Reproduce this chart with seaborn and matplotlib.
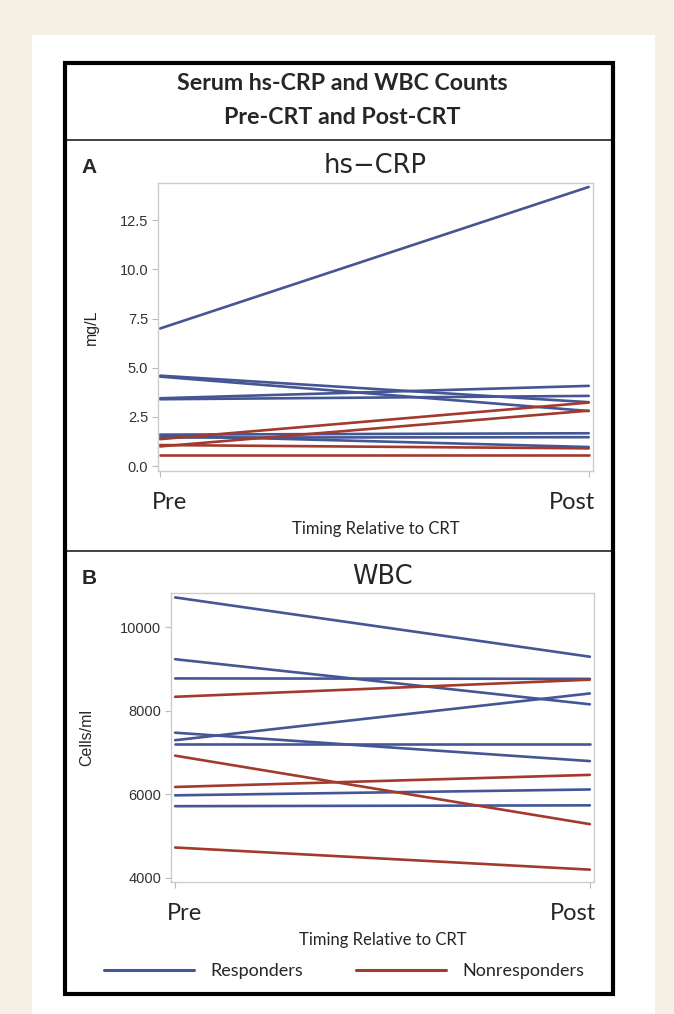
import matplotlib
matplotlib.use("Agg")
import matplotlib.pyplot as plt
import matplotlib.transforms as mtransforms
from matplotlib.lines import Line2D
from matplotlib.patches import Rectangle
import pandas as pd
import seaborn as sns

# hs-CRP (mg/L), one line per patient
crp_resp_pre = [7.0, 4.6, 4.55, 3.45, 3.4, 1.6, 1.55, 1.45]
crp_resp_post = [14.2, 3.25, 2.8, 4.08, 3.57, 1.67, 0.97, 1.47]
crp_non_pre = [1.37, 1.0, 1.07, 0.57]
crp_non_post = [3.23, 2.82, 0.9, 0.57]

# WBC (cells/ml)
wbc_resp_pre = [10720, 9240, 8780, 7480, 7300, 7200, 5980, 5720]
wbc_resp_post = [9300, 8160, 8770, 6800, 8420, 7200, 6120, 5740]
wbc_non_pre = [8340, 6930, 6180, 4730]
wbc_non_post = [8750, 5290, 6470, 4200]

timing = ["Pre", "Post"]
groups = ["Responders", "Nonresponders"]
colors = {"Responders": "#445694", "Nonresponders": "#A23A2E"}

W, H = 674, 1014


def long_df(resp_pre, resp_post, non_pre, non_post):
    rows = []
    pid = 0
    for grp, pre, post in [("Responders", resp_pre, resp_post),
                           ("Nonresponders", non_pre, non_post)]:
        for a, b in zip(pre, post):
            rows.append((pid, grp, 0, a))
            rows.append((pid, grp, 1, b))
            pid += 1
    return pd.DataFrame(rows, columns=["id", "group", "t", "value"])


def fx(x):
    return x / W


def fy(y):
    return 1 - y / H


def box(l, t, r, b):
    return [fx(l), fy(b), fx(r) - fx(l), fy(t) - fy(b)]


sns.set_style("white")
plt.rcParams["font.family"] = ["Liberation Sans", "DejaVu Sans"]
cal = ["Lato", "DejaVu Sans"]

fig = plt.figure(figsize=(W / 100, H / 100), dpi=100, facecolor="#f4f0e3")
fig.patches.append(Rectangle((fx(32), 0), fx(655) - fx(32), fy(35), transform=fig.transFigure,
                             facecolor="white", edgecolor="none", zorder=-10))
fig.patches.append(Rectangle((fx(65), fy(994)), fx(613) - fx(65), fy(63) - fy(994),
                             transform=fig.transFigure, facecolor="none",
                             edgecolor="black", lw=3, zorder=5))
for yy in [140, 551]:
    fig.add_artist(Line2D([fx(65), fx(613)], [fy(yy), fy(yy)], color="#333333", lw=1.3))

fig.text(fx(342), fy(84), "Serum hs-CRP and WBC Counts", ha="center", va="center",
         fontsize=16.7, fontweight="bold", family=cal)
fig.text(fx(342), fy(117), "Pre-CRT and Post-CRT", ha="center", va="center",
         fontsize=16.7, fontweight="bold", family=cal)

panels = [
    dict(df=long_df(crp_resp_pre, crp_resp_post, crp_non_pre, crp_non_post),
         rect=box(158, 183, 593, 471), xlim=(-0.005, 1.01), ylim=(-0.25, 14.4),
         yticks=[0, 2.5, 5, 7.5, 10, 12.5], fmt="{:.1f}", ylabel="mg/L",
         letter="A", title="hs\u2212CRP", ytop=167, ylab_x=91, tim_y=529),
    dict(df=long_df(wbc_resp_pre, wbc_resp_post, wbc_non_pre, wbc_non_post),
         rect=box(171, 593, 594, 882), xlim=(-0.01, 1.01), ylim=(3904, 10826),
         yticks=[4000, 6000, 8000, 10000], fmt="{:.0f}", ylabel="Cells/ml",
         letter="B", title="WBC", ytop=578, ylab_x=87, tim_y=940),
]

for p in panels:
    ax = fig.add_axes(p["rect"])
    ax.set_facecolor("white")
    sns.lineplot(data=p["df"], x="t", y="value", hue="group", units="id",
                 estimator=None, palette=colors, hue_order=groups, lw=1.9,
                 legend=False, ax=ax)
    ax.set_xlim(*p["xlim"])
    ax.set_ylim(*p["ylim"])
    ax.set_xticks([0, 1])
    ax.set_yticks(p["yticks"])
    ax.tick_params(axis="both", length=4, width=0.8, color="#bbbbbb", left=True,
                   bottom=True)
    ax.tick_params(axis="x", pad=11)
    ax.tick_params(axis="y", pad=3)
    ax.set_xticklabels(timing, family=cal, fontsize=17)
    ax.set_yticklabels([p["fmt"].format(v) for v in p["yticks"]], fontsize=10.5,
                       color="#333333")
    # SAS nudges the end labels inward
    for lab, dx in zip(ax.get_xticklabels(), [9, -17]):
        lab.set_transform(lab.get_transform() +
                          mtransforms.ScaledTranslation(dx / 100, 0, fig.dpi_scale_trans))
    ax.set_xlabel("")
    ax.set_ylabel("")
    for s in ax.spines.values():
        s.set_color("#cccccc")
        s.set_linewidth(1)
    pos = ax.get_position()
    fig.text(fx(p["ylab_x"]), pos.y0 + pos.height / 2, p["ylabel"], rotation=90,
             ha="center", va="center", fontsize=11.5)
    fig.text(fx(89), fy(p["ytop"]), p["letter"], ha="center", va="center",
             fontsize=15, fontweight="bold")
    fig.text(pos.x0 + pos.width / 2, fy(p["ytop"] - 1), p["title"], ha="center",
             va="center", fontsize=18.5, family=["DejaVu Sans"])
    fig.text(pos.x0 + pos.width / 2, fy(p["tim_y"]), "Timing Relative to CRT",
             ha="center", va="center", fontsize=12, family=cal)

handles = [Line2D([], [], color=colors[g], lw=2.2) for g in groups]
leg = fig.legend(handles, groups, loc="center", bbox_to_anchor=(fx(344), fy(971)),
                 ncol=2, frameon=False, handlelength=5, handletextpad=0.9,
                 columnspacing=2.9, prop={"family": cal, "size": 13})

fig.savefig("out.png", dpi=100, facecolor=fig.get_facecolor())
